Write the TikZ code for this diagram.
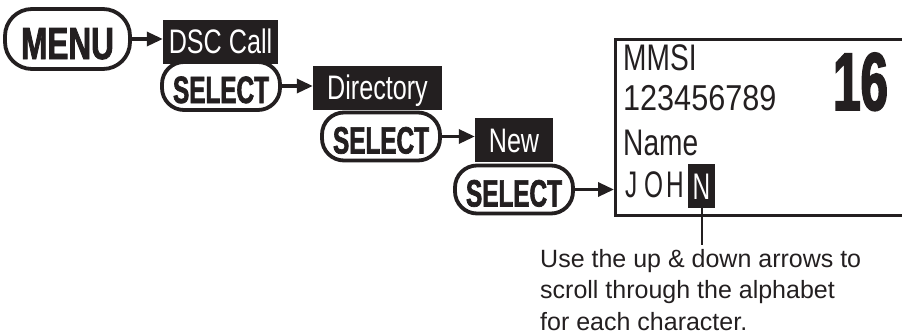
\documentclass[tikz,border=0pt]{standalone}
\usepackage{fontspec}
\setmainfont{Liberation Sans}
\newfontfamily\menufont{Liberation Sans}[FakeStretch=0.7,FakeBold=1.8]
\newfontfamily\selfont{Liberation Sans}[FakeStretch=0.64,FakeBold=1.8]
\newfontfamily\boxfont{Liberation Sans}[FakeStretch=0.74]
\newfontfamily\dispfont{Liberation Sans}[FakeStretch=0.76]
\newfontfamily\johnfont{Liberation Sans}[FakeStretch=0.66]
\newfontfamily\digfont{Liberation Sans}[FakeStretch=0.85]
\newfontfamily\bigfont{Liberation Sans}[FakeStretch=0.6,FakeBold=2]
\usetikzlibrary{arrows.meta}
\definecolor{ink}{HTML}{231F20}
\begin{document}
\begin{tikzpicture}[x=1pt,y=-1pt,
  pill/.style={draw=ink, line width=3.8pt, fill=white, rounded corners=22pt, inner sep=0pt,
    minimum width=118pt, minimum height=48pt, text height=34pt, text depth=0pt, text=ink,
    font={\selfont\bfseries\fontsize{38}{38}\selectfont}},
  menupill/.style={pill, minimum width=125pt, minimum height=60pt, rounded corners=27pt,
    text height=40pt, font={\menufont\bfseries\fontsize{45}{45}\selectfont}},
  blackbox/.style={fill=ink, text=white, inner sep=0pt, minimum height=44pt,
    text height=24pt, text depth=0pt, font={\boxfont\fontsize{34}{34}\selectfont}},
  arr/.style={draw=ink, line width=3.3pt, -{Triangle[length=16pt,width=14pt]}},
  disptext/.style={anchor=base west, inner sep=0pt, text=ink, font={\dispfont\fontsize{37}{37}\selectfont}}
]
\useasboundingbox (0,0) rectangle (902,335);

% display
\node[draw=ink, line width=2.5pt, minimum width=320pt, minimum height=176pt, anchor=north west, inner sep=0pt] (disp) at (614,38) {};
\node[disptext] (mmsi) at (623,70) {MMSI};
\node[disptext, font={\digfont\fontsize{36}{36}\selectfont}] (num) at (623,110) {123456789};
\node[disptext] (nm) at (623,155) {Name};
\node[disptext, font={\johnfont\fontsize{37}{37}\selectfont}] (john) at (625,197) {\makebox[19pt][l]{J}\makebox[22pt][l]{O}H};
\node[fill=ink, text=white, inner sep=0pt, minimum width=27pt, minimum height=44pt, text height=27pt, text depth=0pt,
  font={\johnfont\fontsize{37}{37}\selectfont}] (nbox) at (701.5,185.5) {N};
\node[anchor=base west, inner sep=0pt, text=ink, font={\bigfont\bfseries\fontsize{82}{82}\selectfont}] (ch) at (833,110) {16};

% boxes
\node[blackbox, minimum width=115pt] (dsc) at (220.5,41.5) {DSC Call};
\node[blackbox, minimum width=129pt] (dir) at (377.5,87.5) {Directory};
\node[blackbox, minimum width=78pt] (new) at (514,140) {New};

% pills
\node[menupill] (menu) at (67.5,39) {MENU};
\node[pill] (sel1) at (221,86) {SELECT};
\node[pill] (sel2) at (381,136.5) {SELECT};
\node[pill] (sel3) at (514,189.5) {SELECT};

% arrows
\draw[arr] (menu.east) -- (menu.east -| dsc.west);
\draw[arr] (sel1.east) -- (sel1.east -| dir.west);
\draw[arr] (sel2.east) -- (sel2.east -| new.west);
\draw[arr] (sel3.east) -- (sel3.east -| disp.west);

% help text
\node[anchor=north west, align=left, inner sep=0pt, text=ink, font={\fontsize{25}{31.5}\selectfont}] (help) at (540,249)
  {Use the up \& down arrows to\\scroll through the alphabet\\for each character.};
\coordinate (tip) at (nbox.south |- 0,245);
\draw[ink, line width=2pt] (nbox.south) -- (tip);
\end{tikzpicture}
\end{document}
